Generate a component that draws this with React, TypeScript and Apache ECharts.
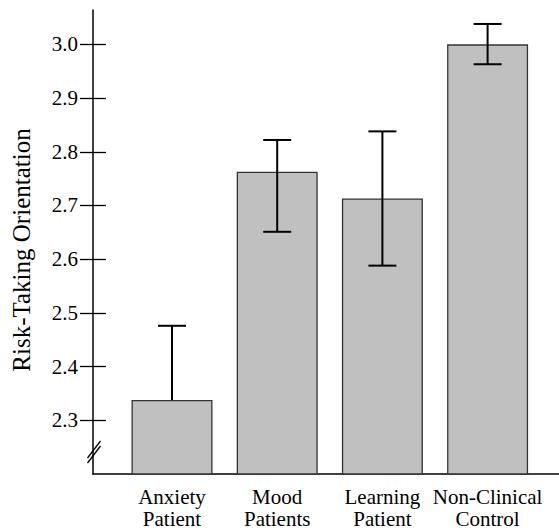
import React, { useEffect, useRef } from "react";
import * as echarts from "echarts";

const categories = ["Anxiety\nPatient", "Mood\nPatients", "Learning\nPatient", "Non-Clinical\nControl"];
const means = [2.338, 2.763, 2.713, 3.0];
const errorUpper = [2.476, 2.822, 2.838, 3.038];
const errorLower: (number | null)[] = [null, 2.651, 2.588, 2.963];
const yTicks = [2.3, 2.4, 2.5, 2.6, 2.7, 2.8, 2.9, 3.0];
const yTitle = "Risk-Taking Orientation";

const FONT = "Liberation Serif";
const Y_MIN = 2.2;
const Y_MAX = 3.064;

export default function App() {
  const ref = useRef<HTMLDivElement>(null);
  useEffect(() => {
    document.body.style.margin = "0";
    const chart = echarts.init(ref.current!, null, { renderer: "svg" });
    const axisLine = { color: "#000", width: 1.5 };
    const option: any = {
      animation: false,
      backgroundColor: "#fff",
      textStyle: { fontFamily: FONT },
      grid: [
        { left: 93, right: 0, top: 10, bottom: 56 },
        { left: 119.4, right: 18.8, top: 10, bottom: 56 },
      ],
      xAxis: [
        {
          gridIndex: 0,
          type: "value",
          min: 0,
          max: 1,
          axisLine: { show: true, onZero: false, lineStyle: axisLine },
          axisTick: { show: false },
          axisLabel: { show: false },
          splitLine: { show: false },
        },
        {
          gridIndex: 1,
          type: "category",
          data: categories,
          axisLine: { show: false },
          axisTick: { show: false },
          axisLabel: {
            interval: 0,
            color: "#000",
            fontSize: 21,
            fontFamily: FONT,
            lineHeight: 22,
            margin: 12,
          },
        },
      ],
      yAxis: [
        {
          gridIndex: 0,
          type: "value",
          min: Y_MIN,
          max: Y_MAX,
          position: "left",
          axisLine: { show: true, onZero: false, lineStyle: axisLine },
          axisTick: { show: true, length: 13, customValues: yTicks, lineStyle: { color: "#000", width: 1.3 } },
          axisLabel: {
            customValues: yTicks,
            formatter: (v: number) => v.toFixed(1),
            color: "#000",
            fontSize: 21,
            fontFamily: FONT,
            margin: 15,
          },
          splitLine: { show: false },
        },
        {
          gridIndex: 0,
          type: "value",
          min: Y_MIN,
          max: Y_MAX,
          position: "left",
          axisLine: { show: false },
          axisTick: { show: true, inside: true, length: 13, customValues: yTicks, lineStyle: { color: "#000", width: 1.3 } },
          axisLabel: { show: false },
          splitLine: { show: false },
        },
        {
          gridIndex: 1,
          type: "value",
          min: Y_MIN,
          max: Y_MAX,
          show: false,
        },
      ],
      graphic: [
        {
          type: "text",
          x: 21,
          y: 250,
          rotation: Math.PI / 2,
          style: {
            text: yTitle,
            fontSize: 25,
            fontFamily: FONT,
            fill: "#000",
            align: "center",
            verticalAlign: "middle",
          },
        },
        {
          type: "line",
          shape: { x1: 87.5, y1: 458, x2: 100.5, y2: 441 },
          style: { stroke: "#000", lineWidth: 1.3 },
        },
        {
          type: "line",
          shape: { x1: 87.5, y1: 463, x2: 100.5, y2: 446 },
          style: { stroke: "#000", lineWidth: 1.3 },
        },
      ],
      series: [
        {
          type: "bar",
          xAxisIndex: 1,
          yAxisIndex: 2,
          data: means,
          barWidth: 81,
          itemStyle: { color: "#c0c0c0", borderColor: "#333", borderWidth: 1.3 },
          z: 2,
        },
        {
          type: "custom",
          xAxisIndex: 1,
          yAxisIndex: 2,
          z: 3,
          data: categories.map((_, i) => [
            i,
            errorLower[i] == null ? means[i] : errorLower[i],
            errorUpper[i],
            errorLower[i] == null ? 0 : 1,
          ]),
          renderItem: (params: any, api: any) => {
            const i = api.value(0);
            const lo = api.coord([i, api.value(1)]);
            const hi = api.coord([i, api.value(2)]);
            const half = 14;
            const style = { stroke: "#000", lineWidth: 2 };
            const children: any[] = [
              { type: "line", shape: { x1: hi[0], y1: hi[1], x2: lo[0], y2: lo[1] }, style },
              { type: "line", shape: { x1: hi[0] - half, y1: hi[1], x2: hi[0] + half, y2: hi[1] }, style },
            ];
            if (api.value(3) === 1) {
              children.push({ type: "line", shape: { x1: lo[0] - half, y1: lo[1], x2: lo[0] + half, y2: lo[1] }, style });
            }
            return { type: "group", children };
          },
        },
      ],
    };
    chart.setOption(option);
    return () => chart.dispose();
  }, []);
  return <div ref={ref} style={{ width: 559, height: 530 }} />;
}
